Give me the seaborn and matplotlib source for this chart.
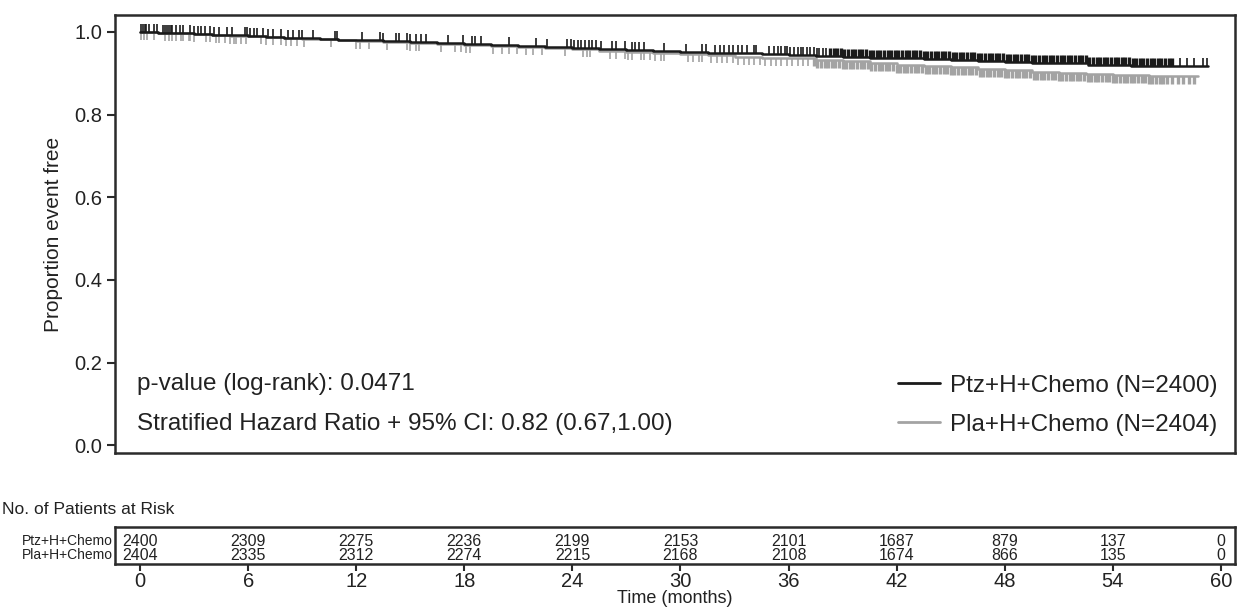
import numpy as np
import pandas as pd
import matplotlib
matplotlib.use("Agg")
import matplotlib.pyplot as plt
from matplotlib.path import Path
from matplotlib.lines import Line2D
import seaborn as sns

sns.set_theme(style="white")
plt.rcParams['font.family'] = ['Liberation Sans', 'DejaVu Sans']

# ---------------- data ----------------
arm_names = ["Ptz+H+Chemo", "Pla+H+Chemo"]
arm_n = [2400, 2404]

ptz_time = [0, 1, 2, 3, 4, 5, 6, 7, 8, 9, 10, 11, 12, 13.5, 15, 16.5, 18, 19.5, 21, 22.5,
            24, 25.5, 27, 28.5, 30, 31.5, 33, 34.5, 36, 37.5, 39, 40.5, 42, 43.5, 45, 46.5,
            48, 49.5, 51, 52.6, 55, 59.3]
ptz_surv = [1.0, 0.9985, 0.997, 0.995, 0.9935, 0.992, 0.990, 0.988, 0.9865, 0.985, 0.983,
            0.9815, 0.980, 0.978, 0.9755, 0.973, 0.971, 0.9685, 0.966, 0.964, 0.962, 0.9595,
            0.957, 0.9545, 0.952, 0.950, 0.948, 0.946, 0.944, 0.942, 0.940, 0.938, 0.936,
            0.934, 0.9315, 0.929, 0.927, 0.9255, 0.924, 0.919, 0.9185, 0.9185]

pla_time = [0, 1, 2, 3, 4, 5, 6, 7, 8, 9, 10, 11, 12, 13.5, 15, 16.5, 18, 19.5, 21, 22.5,
            24, 25.5, 27, 28.5, 30, 31.5, 33, 34.5, 36, 37.5, 39, 40.5, 42, 43.5, 45, 46.5,
            48, 49.5, 51, 52.5, 54, 56, 58.7]
pla_surv = [1.0, 0.998, 0.9965, 0.995, 0.993, 0.991, 0.989, 0.987, 0.9855, 0.984, 0.982,
            0.980, 0.978, 0.9755, 0.973, 0.9705, 0.968, 0.9655, 0.963, 0.9605, 0.958, 0.955,
            0.952, 0.949, 0.946, 0.943, 0.9405, 0.938, 0.936, 0.932, 0.9285, 0.925, 0.921,
            0.9175, 0.914, 0.9105, 0.907, 0.904, 0.901, 0.8985, 0.896, 0.894, 0.893]

# censoring times, sparse part (before ~38 months)
ptz_censor_early = [0.05, 0.15, 0.25, 0.35, 0.5, 0.8, 0.95, 1.3, 1.4, 1.5, 1.6, 1.7, 1.8,
                    2.0, 2.2, 2.4, 2.8, 3.0, 3.2, 3.4, 3.6, 3.9, 4.1, 4.4, 4.8, 5.1, 5.8,
                    5.95, 6.1, 6.3, 6.5, 6.8, 7.1, 7.4, 7.8, 8.2, 8.5, 8.8, 9.0, 9.6, 10.8,
                    10.95, 12.3, 13.3, 13.5, 14.2, 14.4, 14.8, 15.0, 15.3, 15.6, 15.9, 17.1,
                    17.9, 18.4, 18.6, 18.9, 20.5, 22.0, 22.6, 23.7, 23.9, 24.1, 24.3, 24.5,
                    24.7, 24.9, 25.1, 25.3, 25.6, 26.2, 26.4, 26.9, 27.3, 27.5, 27.7, 28.0,
                    29.1, 30.3, 31.2, 31.4, 31.9, 32.2, 32.4, 32.7, 32.9, 33.2, 33.4, 33.7,
                    34.1, 34.2, 34.9, 35.2, 35.4, 35.6, 35.8, 35.9, 36.1, 36.3, 36.5, 36.7,
                    36.8, 37.0, 37.2, 37.4, 37.55, 37.7, 37.9, 38.1]
# censoring times, dense part
ptz_censor_late = [38.3, 38.5, 38.7, 38.9, 39.1, 39.3, 39.5, 39.7, 39.9, 40.1, 40.3, 40.5,
                   40.7, 40.9, 41.1, 41.3, 41.5, 41.7, 41.9, 42.1, 42.3, 42.5, 42.7, 42.9,
                   43.1, 43.3, 43.5, 43.7, 43.9, 44.1, 44.3, 44.5, 44.7, 44.9, 45.1, 45.3,
                   45.5, 45.7, 45.9, 46.1, 46.3, 46.5, 46.7, 46.9, 47.1, 47.3, 47.5, 47.7,
                   47.9, 48.1, 48.3, 48.5, 48.7, 48.9, 49.1, 49.3, 49.5, 49.7, 49.9, 50.1,
                   50.3, 50.5, 50.7, 50.9, 51.1, 51.3, 51.5, 51.7, 51.9, 52.1, 52.3, 52.5,
                   52.7, 52.9, 53.1, 53.3, 53.5, 53.7, 53.9, 54.1, 54.3, 54.5, 54.7, 54.9,
                   55.1, 55.3, 55.5, 55.7, 55.9, 56.1, 56.3, 56.5, 56.7, 56.9, 57.1, 57.3]
ptz_censor_tail = [57.7, 58.1, 58.5, 59.0, 59.2]

pla_censor_early = [0.05, 0.2, 0.4, 0.8, 1.4, 1.6, 1.8, 2.0, 2.3, 2.4, 2.7, 2.8, 3.0, 3.65,
                    3.9, 4.2, 4.4, 4.7, 5.0, 5.2, 5.35, 5.6, 5.9, 6.7, 7.0, 7.4, 7.8, 8.1,
                    8.4, 8.7, 9.1, 10.6, 12.0, 12.2, 12.7, 13.7, 14.8, 15.0, 15.3, 15.5,
                    16.7, 17.5, 17.8, 18.1, 18.3, 19.6, 20.1, 20.5, 20.9, 21.4, 21.8, 22.3,
                    23.6, 24.6, 24.8, 25.0, 26.1, 26.4, 26.9, 27.1, 27.3, 27.8, 28.0, 28.3,
                    28.6, 28.9, 29.1, 30.4, 30.7, 31.0, 31.2, 31.7, 32.0, 32.3, 32.6, 32.9,
                    33.2, 33.5, 33.8, 34.1, 34.4, 34.7, 35.0, 35.3, 35.6, 35.9, 36.2, 36.5,
                    36.8, 37.1]
pla_censor_late = [37.4, 37.6, 37.8, 38.0, 38.2, 38.4, 38.6, 38.8, 39.0, 39.2, 39.4, 39.6,
                   39.8, 40.0, 40.2, 40.4, 40.6, 40.8, 41.0, 41.2, 41.4, 41.6, 41.8, 42.0,
                   42.2, 42.4, 42.6, 42.8, 43.0, 43.2, 43.4, 43.6, 43.8, 44.0, 44.2, 44.4,
                   44.6, 44.8, 45.0, 45.2, 45.4, 45.6, 45.8, 46.0, 46.2, 46.4, 46.6, 46.8,
                   47.0, 47.2, 47.4, 47.6, 47.8, 48.0, 48.2, 48.4, 48.6, 48.8, 49.0, 49.2,
                   49.4, 49.6, 49.8, 50.0, 50.2, 50.4, 50.6, 50.8, 51.0, 51.2, 51.4, 51.6,
                   51.8, 52.0, 52.2, 52.4, 52.6, 52.8, 53.0, 53.2, 53.4, 53.6, 53.8, 54.0,
                   54.2, 54.4, 54.6, 54.8, 55.0, 55.2, 55.4, 55.6, 55.8, 56.0, 56.2, 56.4,
                   56.6, 56.8, 57.0, 57.3, 57.6, 57.9, 58.2, 58.5]

risk_times = [0, 6, 12, 18, 24, 30, 36, 42, 48, 54, 60]
ptz_risk = [2400, 2309, 2275, 2236, 2199, 2153, 2101, 1687, 879, 137, 0]
pla_risk = [2404, 2335, 2312, 2274, 2215, 2168, 2108, 1674, 866, 135, 0]

pvalue_text = "p-value (log-rank): 0.0471"
hr_text = "Stratified Hazard Ratio + 95% CI: 0.82 (0.67,1.00)"

# ---------------- styling ----------------
col_ptz = "#1a1a1a"
col_pla = "#a3a3a3"
spine_col = "#2b2b2b"
txt_col = "#222222"

W, H = 1238, 609
fig = plt.figure(figsize=(W / 100, H / 100), dpi=100)
ax = fig.add_axes([115 / W, 1 - 453 / H, 1120 / W, 438 / H])
axr = fig.add_axes([115 / W, 1 - 564 / H, 1120 / W, 37 / H])

XLIM = (-1.39, 60.78)

up_mark = Path([(0, 0), (0, 1)], [Path.MOVETO, Path.LINETO])
down_mark = Path([(0, 0), (0, -1)], [Path.MOVETO, Path.LINETO])


def step_value(times, surv, t):
    idx = np.searchsorted(np.asarray(times), t, side="right") - 1
    return np.asarray(surv)[idx]


arms = [
    (ptz_time, ptz_surv, [(ptz_censor_early, 1.2), (ptz_censor_late, 2.4),
                          (ptz_censor_tail, 1.2)], col_ptz, up_mark),
    (pla_time, pla_surv, [(pla_censor_early, 1.2), (pla_censor_late, 2.4)],
     col_pla, down_mark),
]
# gray first, black on top
for times, surv, cens_groups, col, mk in arms[::-1]:
    df = pd.DataFrame({"t": times, "s": surv})
    sns.lineplot(data=df, x="t", y="s", ax=ax, color=col, linewidth=1.8,
                 drawstyle="steps-post", estimator=None, sort=False)
    for cens, mew in cens_groups:
        cdf = pd.DataFrame({"t": cens, "s": step_value(times, surv, cens)})
        sns.lineplot(data=cdf, x="t", y="s", ax=ax, color=col, linestyle="none",
                     marker=mk, markersize=12, markeredgewidth=mew,
                     markeredgecolor=col, estimator=None, sort=False)

ax.set_xlim(*XLIM)
ax.set_ylim(-0.019, 1.041)
yt = [0.0, 0.2, 0.4, 0.6, 0.8, 1.0]
ax.set_yticks(yt)
ax.set_yticklabels([f"{v:.1f}" for v in yt], fontsize=14.5)
ax.set_xticks([])
ax.set_xlabel("")
ax.set_ylabel("Proportion event free", fontsize=15, color=txt_col, labelpad=8)
ax.tick_params(axis="y", direction="out", length=6, width=1.5, color=spine_col,
               labelcolor=txt_col, pad=3, left=True)
for sp in ax.spines.values():
    sp.set_color(spine_col)
    sp.set_linewidth(1.8)

ax.text(22 / 1120, 1 - (384 - 15) / 438, pvalue_text, transform=ax.transAxes,
        fontsize=17.5, color=txt_col, va="center", ha="left")
ax.text(22 / 1120, 1 - (424 - 15) / 438, hr_text, transform=ax.transAxes,
        fontsize=17.5, color=txt_col, va="center", ha="left")

handles = [Line2D([0], [0], color=col_ptz, lw=2),
           Line2D([0], [0], color=col_pla, lw=2)]
labels = [f"{arm_names[0]} (N={arm_n[0]})", f"{arm_names[1]} (N={arm_n[1]})"]
leg = ax.legend(handles, labels, loc="lower right", frameon=False, fontsize=17.5,
                handlelength=1.7, handletextpad=0.45, labelspacing=0.7,
                borderaxespad=0.3)
for t in leg.get_texts():
    t.set_color(txt_col)

# ---------------- risk table ----------------
axr.set_xlim(*XLIM)
axr.set_ylim(0, 2)
for sp in axr.spines.values():
    sp.set_color(spine_col)
    sp.set_linewidth(1.8)
axr.set_yticks([])
axr.set_xticks(risk_times)
axr.set_xticklabels([str(t) for t in risk_times], fontsize=14.5)
axr.tick_params(axis="x", direction="out", length=5, width=1.5, color=spine_col,
                labelcolor=txt_col, pad=1, bottom=True)
axr.set_xlabel("Time (months)", fontsize=13, color=txt_col, labelpad=-1)

row_y = [2 * (564 - 541) / 37, 2 * (564 - 555) / 37]
for ry, vals in zip(row_y, [ptz_risk, pla_risk]):
    for t, v in zip(risk_times, vals):
        axr.text(t, ry, str(v), ha="center", va="center", fontsize=11.5, color=txt_col)

for ry, name in zip(row_y, arm_names):
    axr.text(-0.002, ry / 2, name, transform=axr.transAxes, ha="right",
             va="center", fontsize=10, color=txt_col)

fig.text(0.002, 1 - 509 / H, "No. of Patients at Risk", ha="left", va="center",
         fontsize=12.5, color=txt_col)

fig.savefig("out.png", dpi=100, facecolor="white")
